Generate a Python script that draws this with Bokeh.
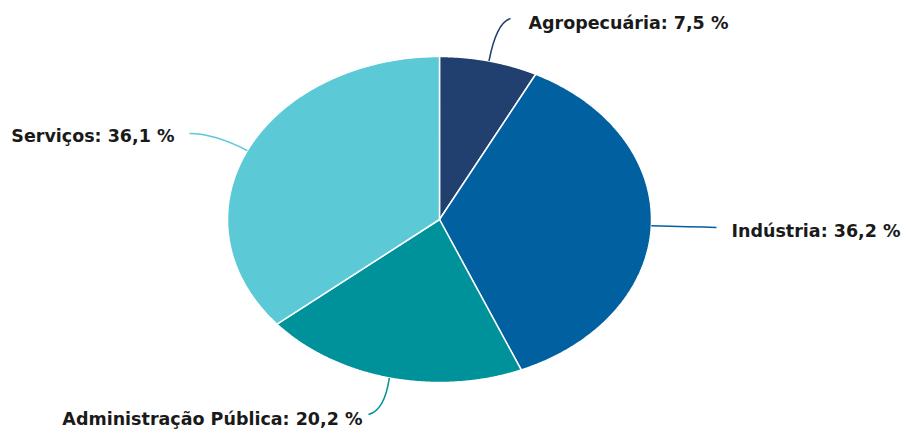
import numpy as np
from bokeh.plotting import figure
from bokeh.models import Range1d, ColumnDataSource
from bokeh.core.properties import value
from bokeh.embed import file_html
from bokeh.resources import INLINE

# ---- data ----
categories = ["Agropecuária", "Indústria", "Administração Pública", "Serviços"]
shares = [7.5, 36.2, 20.2, 36.1]
labels = ["Agropecuária: 7,5 %", "Indústria: 36,2 %", "Administração Pública: 20,2 %", "Serviços: 36,1 %"]
colors = ["#213F6F", "#0060A0", "#00929A", "#5BC9D6"]

# ---- layout (pixel-like data coordinates) ----
W, H = 908, 430
CX, CY, RX, RY = 439, 219, 212, 163

p = figure(width=W, height=H, output_backend="svg", toolbar_location=None,
           x_range=Range1d(0, W), y_range=Range1d(H, 0),
           x_axis_location=None, y_axis_location=None, min_border=0,
           outline_line_color=None)
p.xgrid.visible = False
p.ygrid.visible = False

def ell(t):
    return CX + RX * np.sin(t), CY - RY * np.cos(t)

vals = np.array(shares, dtype=float)
frac = vals / vals.sum()
ends = np.cumsum(frac) * 2 * np.pi
starts = np.concatenate([[0.0], ends[:-1]])

xs, ys, mids = [], [], []
for a0, a1 in zip(starts, ends):
    t = np.linspace(a0, a1, 200)
    ex, ey = ell(t)
    xs.append(np.concatenate([[CX], ex, [CX]]).tolist())
    ys.append(np.concatenate([[CY], ey, [CY]]).tolist())
    mids.append((a0 + a1) / 2)

p.patches(xs=xs, ys=ys, fill_color=colors, line_color="white", line_width=1.5)

# connectors and labels
label_pos = [(528, 22, "left"), (731, 230, "left"), (362, 418, "right"), (174, 135, "right")]
conn_end = [(510, 18), (716, 227), (368, 414), (189, 133)]
conn_ctrl = [(496, 22), (690, 226), (384, 410), (214, 133)]

for i in range(len(categories)):
    sx, sy = ell(mids[i])
    ex, ey = conn_end[i]
    cx_, cy_ = conn_ctrl[i]
    p.quadratic(x0=[sx], y0=[sy], x1=[ex], y1=[ey], cx=[cx_], cy=[cy_],
                line_color=colors[i], line_width=1.5)

src = ColumnDataSource(dict(x=[l[0] for l in label_pos], y=[l[1] for l in label_pos],
                            text=labels, align=[l[2] for l in label_pos]))
p.text(x="x", y="y", text="text", text_align="align", source=src,
       text_baseline="middle", text_font=value("DejaVu Sans"), text_font_style="bold",
       text_font_size="17.5px", text_color="#1a1a1a")

open("out.html", "w").write(file_html(p, INLINE))
